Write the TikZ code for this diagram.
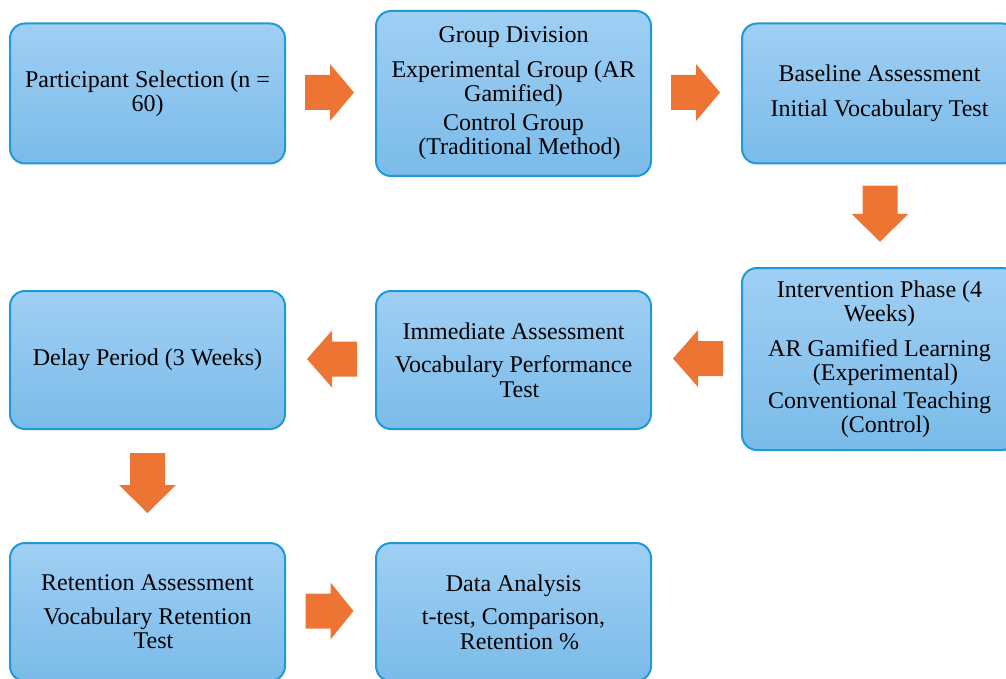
\documentclass[tikz,border=0pt]{standalone}
\usepackage{fontspec}
\setmainfont{Liberation Serif}
\usetikzlibrary{calc}
\definecolor{boxtop}{RGB}{160,207,244}
\definecolor{boxbot}{RGB}{122,187,233}
\definecolor{boxline}{RGB}{30,154,214}
\definecolor{arroworange}{RGB}{237,116,50}
\tikzset{
  stagebox/.style={draw=boxline, line width=2pt, rounded corners=15pt,
    top color=boxtop, bottom color=boxbot, minimum width=275pt,
    align=center, inner sep=0pt,
    font=\fontsize{24}{24.5}\selectfont},
  blockarrow/.style={fill=arroworange, draw=none}
}
\newcommand\lsp{\hspace*{12pt}}
% block arrow: #1 centre, #2 angle, #3 length, #4 head length
\newcommand\blockarr[4]{%
  \fill[blockarrow, shift={(#1)}, rotate=#2]
    (-#3/2,-17.5) -- ({#3/2-#4},-17.5) -- ({#3/2-#4},-28.5) -- (#3/2,0)
    -- ({#3/2-#4},28.5) -- ({#3/2-#4},17.5) -- (-#3/2,17.5) -- cycle;}
\begin{document}
\begin{tikzpicture}[x=1pt,y=-1pt]
\useasboundingbox (0,0) rectangle (1006,679);
\node[stagebox, minimum height=140pt] (sel) at (147.5,93.5)
  {Participant Selection (n =\\60)};
\node[stagebox, minimum height=165pt] (grp) at (513.5,93.5)
  {Group Division\\[10pt]Experimental Group (AR\\Gamified)\\[4pt]Control Group\\\lsp(Traditional Method)};
\node[stagebox, minimum height=140pt] (base) at (879.5,93.5)
  {Baseline Assessment\\[10pt]Initial Vocabulary Test};
\node[stagebox, minimum height=182pt] (int) at (879.5,359)
  {Intervention Phase (4\\Weeks)\\[10pt]AR Gamified Learning\\\lsp(Experimental)\\[3pt]Conventional Teaching\\\lsp(Control)};
\node[stagebox, minimum height=138pt] (imm) at (513.5,360)
  {Immediate Assessment\\[9pt]Vocabulary Performance\\\lsp Test};
\node[stagebox, minimum height=138pt] (del) at (147.5,360)
  {Delay Period (3 Weeks)};
\node[stagebox, minimum height=138pt] (ret) at (147.5,612)
  {Retention Assessment\\[9pt]Vocabulary Retention\\\lsp Test};
\node[stagebox, minimum height=138pt] (dat) at (513.5,612)
  {Data Analysis\\[9pt]t-test, Comparison,\\\lsp Retention \%};
\blockarr{$(sel.east)!0.5!(grp.west)+(-1,-1)$}{0}{49}{24}
\blockarr{$(grp.east)!0.5!(base.west)+(-1,-1)$}{0}{49}{24}
\blockarr{$(base.south)!0.5!(int.north)+(0.5,-2)$}{-90}{56}{28}
\blockarr{$(int.west)!0.5!(imm.east)+(1.5,-1)$}{180}{50}{25}
\blockarr{$(imm.west)!0.5!(del.east)+(1.5,-1)$}{180}{50}{25}
\blockarr{$(del.south)!0.5!(ret.north)+(0,-3)$}{-90}{60}{28}
\blockarr{$(ret.east)!0.5!(dat.west)+(-1,-1)$}{0}{48}{23}
\end{tikzpicture}
\end{document}
